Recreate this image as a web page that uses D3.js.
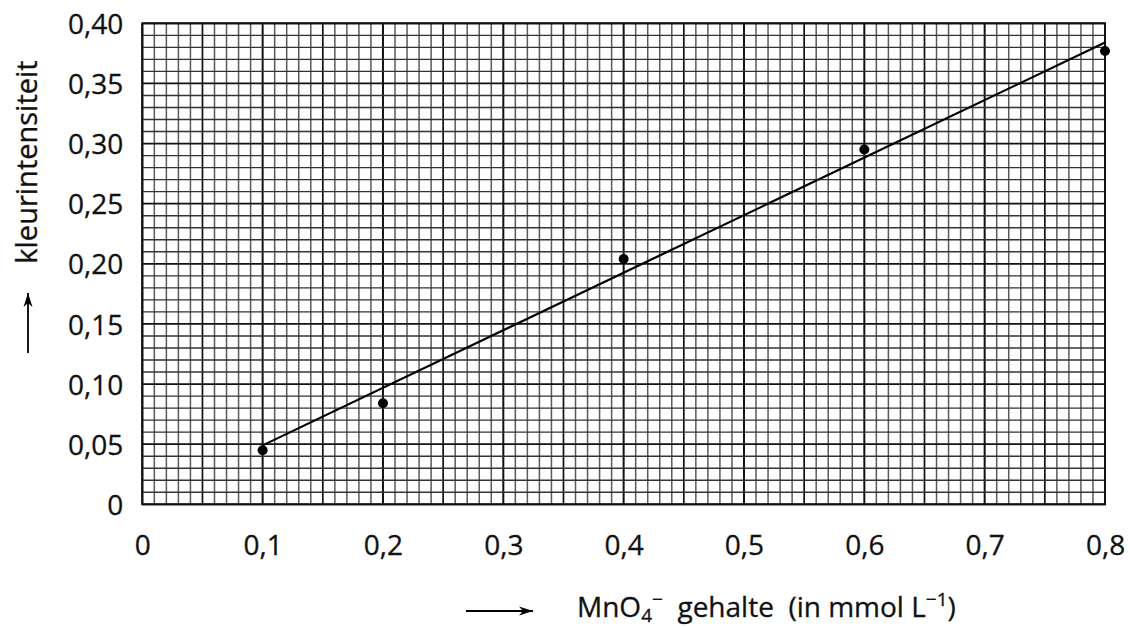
<!DOCTYPE html>
<html>
<head>
<meta charset="utf-8">
<script src="https://cdn.jsdelivr.net/npm/d3@7"></script>
<style>
  html, body { margin: 0; padding: 0; background: #fff; }
  svg { display: block; }
  text { font-family: "Open Sans", "Noto Sans", sans-serif; fill: #111; }
</style>
</head>
<body>
<svg id="chart" width="1130" height="627"></svg>
<script>
// ---- data ----
const xTickValues = [0, 0.1, 0.2, 0.3, 0.4, 0.5, 0.6, 0.7, 0.8];
const xTickLabels = ["0", "0,1", "0,2", "0,3", "0,4", "0,5", "0,6", "0,7", "0,8"];
const yTickValues = [0, 0.05, 0.10, 0.15, 0.20, 0.25, 0.30, 0.35, 0.40];
const yTickLabels = ["0", "0,05", "0,10", "0,15", "0,20", "0,25", "0,30", "0,35", "0,40"];
const pointX = [0.1, 0.2, 0.4, 0.6, 0.8];
const pointY = [0.045, 0.084, 0.204, 0.295, 0.377];
const lineX = [0.1, 0.8];
const lineY = [0.049, 0.384];
const yTitle = "kleurintensiteit";

// ---- layout ----
const svg = d3.select("#chart");
const pLeft = 142.3, pRight = 1105, pTop = 23.3, pBottom = 504.3;
const x = d3.scaleLinear().domain([0, 0.8]).range([pLeft, pRight]);
const y = d3.scaleLinear().domain([0, 0.4]).range([pBottom, pTop]);

// grid
const g = svg.append("g");
const xMinor = d3.range(0, 81).map(i => i / 100);
const yMinor = d3.range(0, 41).map(i => i / 100);
g.selectAll("line.vx").data(xMinor).join("line")
  .attr("x1", d => x(d)).attr("x2", d => x(d))
  .attr("y1", pTop).attr("y2", pBottom)
  .attr("stroke", (d, i) => i % 5 === 0 ? "#111" : "#5a5a5a")
  .attr("stroke-width", (d, i) => i % 10 === 0 ? 2 : (i % 5 === 0 ? 1.7 : 1.5));
g.selectAll("line.hy").data(yMinor).join("line")
  .attr("y1", d => y(d)).attr("y2", d => y(d))
  .attr("x1", pLeft).attr("x2", pRight)
  .attr("stroke", (d, i) => i % 5 === 0 ? "#111" : "#333")
  .attr("stroke-width", (d, i) => i % 5 === 0 ? 1.8 : 1.4);
// frame
g.append("rect").attr("x", pLeft).attr("y", pTop).attr("width", pRight - pLeft).attr("height", pBottom - pTop)
  .attr("fill", "none").attr("stroke", "#111").attr("stroke-width", 2);

// axes (labels only, via d3 axes)
const xAxis = d3.axisBottom(x).tickValues(xTickValues)
  .tickFormat((d, i) => xTickLabels[i]).tickSize(0).tickPadding(0);
const xa = svg.append("g").attr("transform", `translate(0,${pBottom})`).call(xAxis);
xa.select(".domain").remove();
xa.selectAll("text").attr("dy", null).attr("y", 51).attr("font-size", 28)
  .attr("font-family", "Open Sans, sans-serif").attr("fill", "#111")
  .attr("stroke", "#111").attr("stroke-width", 0.3);

const yAxis = d3.axisLeft(y).tickValues(yTickValues)
  .tickFormat((d, i) => yTickLabels[i]).tickSize(0).tickPadding(0);
const ya = svg.append("g").attr("transform", `translate(${pLeft},0)`).call(yAxis);
ya.select(".domain").remove();
ya.selectAll("text").attr("x", -19).attr("dy", "0.36em").attr("font-size", 28)
  .attr("font-family", "Open Sans, sans-serif").attr("fill", "#111")
  .attr("stroke", "#111").attr("stroke-width", 0.3);

// fitted line
const lineData = lineX.map((v, i) => [v, lineY[i]]);
svg.append("path").datum(lineData)
  .attr("d", d3.line().x(d => x(d[0])).y(d => y(d[1])))
  .attr("stroke", "#000").attr("stroke-width", 2.2).attr("fill", "none");

// points
svg.selectAll("circle.pt").data(pointX.map((v, i) => [v, pointY[i]])).join("circle")
  .attr("cx", d => x(d[0])).attr("cy", d => y(d[1])).attr("r", 5).attr("fill", "#000");

// arrow marker
const defs = svg.append("defs");
defs.append("marker").attr("id", "ah").attr("viewBox", "0 0 14 10")
  .attr("refX", 14).attr("refY", 5).attr("markerWidth", 14).attr("markerHeight", 10)
  .attr("markerUnits", "userSpaceOnUse").attr("orient", "auto")
  .append("path").attr("d", "M0,0.5 L14,5 L0,9.5 L4,5 Z").attr("fill", "#000");

// y title
svg.append("text").attr("transform", "translate(37,162) rotate(-90)")
  .attr("text-anchor", "middle").attr("font-size", 29)
  .attr("stroke", "#111").attr("stroke-width", 0.3).text(yTitle);
svg.append("line").attr("x1", 28).attr("x2", 28).attr("y1", 353).attr("y2", 293)
  .attr("stroke", "#000").attr("stroke-width", 1.8).attr("marker-end", "url(#ah)");

// x title
svg.append("line").attr("x1", 466).attr("x2", 533).attr("y1", 611).attr("y2", 611)
  .attr("stroke", "#000").attr("stroke-width", 1.8).attr("marker-end", "url(#ah)");
const xt = svg.append("text").attr("x", 577).attr("y", 617).attr("font-size", 28)
  .attr("stroke", "#111").attr("stroke-width", 0.3)
  .attr("xml:space", "preserve").style("white-space", "pre");
xt.append("tspan").text("MnO");
xt.append("tspan").attr("font-size", 19).attr("dy", 5).text("4");
xt.append("tspan").attr("font-size", 19).attr("dy", -16).text("\u2212");
xt.append("tspan").attr("dy", 11).text("  gehalte  (in mmol L");
xt.append("tspan").attr("font-size", 19).attr("dy", -11).text("\u22121");
xt.append("tspan").attr("dy", 11).text(")");
</script>
</body>
</html>
